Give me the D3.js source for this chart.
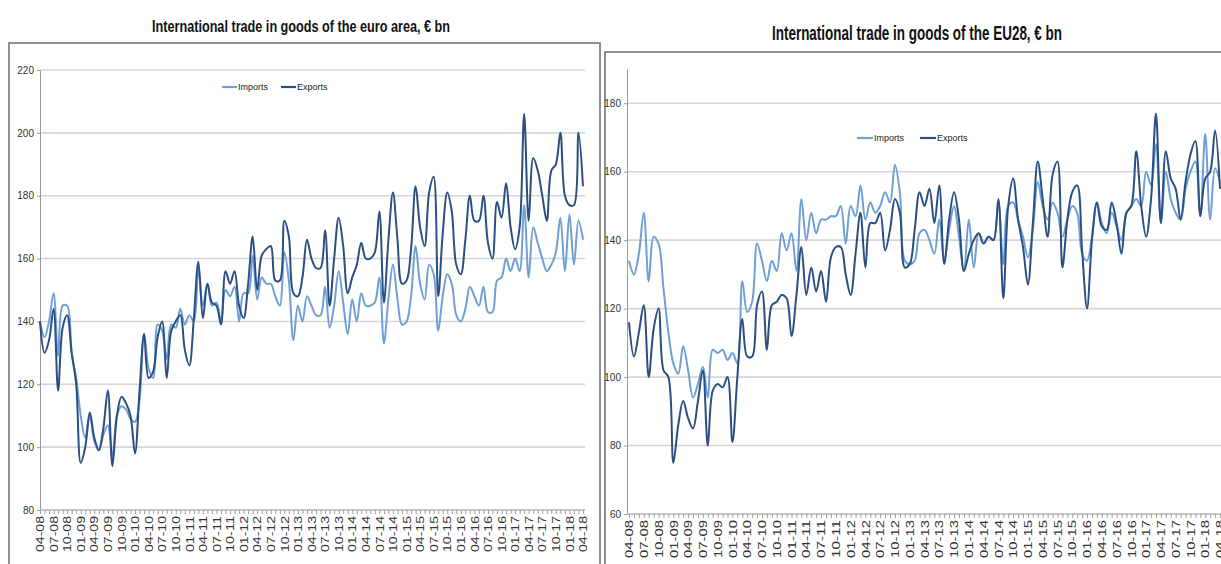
<!DOCTYPE html>
<html>
<head>
<meta charset="utf-8">
<script src="https://cdn.jsdelivr.net/npm/d3@7"></script>
<style>
  body { margin: 0; background: #fff; }
  svg { display: block; font-family: "Liberation Sans Narrow", "Liberation Sans", Arial, sans-serif; }
</style>
</head>
<body>
<svg id="chart" width="1221" height="564"></svg>
<script>
// months Apr 2008 .. Apr 2018
const months = d3.timeMonth.range(new Date(2008, 3, 1), new Date(2018, 4, 1)).map(d3.timeFormat('%m-%y'));

const tickLabels = ['04-08','07-08','10-08','01-09','04-09','07-09','10-09','01-10','04-10','07-10','10-10',
  '01-11','04-11','07-11','10-11','01-12','04-12','07-12','10-12','01-13','04-13','07-13','10-13',
  '01-14','04-14','07-14','10-14','01-15','04-15','07-15','10-15','01-16','04-16','07-16','10-16',
  '01-17','04-17','07-17','10-17','01-18','04-18'];

// euro area, € bn
const eaImports = [
  140,135,140,149,129,145,145,130,122,
  110,103,110,102,99,104,107,97,110,113,112,109,
  108,115,136,125,122,139,137,128,139,138,144,139,
  142,140,157,145,152,145,146,140,150,148,151,140,
  149,149,161,147,154,152,152,148,145,162,153,134,
  145,140,148,145,142,142,151,138,145,156,146,136,
  147,140,149,145,145,146,154,133,147,158,147,139,
  140,148,164,152,147,158,155,137,148,155,152,142,
  140,144,151,148,145,151,143,143,153,154,160,156,
  160,156,177,154,170,165,160,156,158,162,173,156,
  174,158,172,166];
const eaExports = [
  140,130,134,144,118,138,142,130,120,
  95,100,111,103,99,106,118,94,110,116,114,110,
  98,118,136,122,124,135,140,122,137,140,142,131,
  126,141,159,141,152,146,145,139,156,152,156,145,
  141,152,167,150,161,163,164,153,153,172,167,149,
  148,154,166,160,157,157,169,145,160,173,164,149,
  154,158,165,160,160,162,175,146,166,181,166,152,
  153,163,183,170,164,181,186,148,168,181,175,158,
  155,166,180,172,172,180,165,160,178,173,184,170,
  163,170,206,172,192,188,180,172,188,190,200,180,
  177,177,200,183];

// EU28, € bn
const euImports = [
  134,130,136,148,128,141,139,126,113,
  104,101,109,102,94,98,103,94,108,107,108,105,
  107,104,128,119,122,139,134,128,134,131,142,137,
  142,131,152,140,148,142,146,146,147,147,150,139,
  150,147,156,146,151,148,150,154,151,162,154,134,
  133,134,142,143,140,136,146,134,143,150,141,131,
  146,132,142,139,141,140,151,133,150,151,146,141,
  135,143,157,150,146,151,148,141,146,150,148,136,
  134,141,151,145,142,148,144,140,148,150,152,150,
  160,156,168,145,160,152,148,146,155,160,163,147,
  171,146,161,157];
const euExports = [
  116,106,113,121,100,114,120,102,100,
  75,86,93,88,85,93,102,80,96,98,97,100,
  81,100,117,106,106,121,125,108,121,122,124,123,
  112,124,138,124,132,125,131,122,135,138,138,130,
  124,136,148,132,145,145,148,137,143,152,148,132,
  133,143,154,150,155,145,156,133,146,154,146,131,
  136,140,142,139,141,140,152,123,150,158,146,138,
  127,145,163,152,141,159,163,132,146,154,156,137,
  120,140,151,144,143,151,145,136,148,150,166,150,
  141,152,177,145,166,158,155,146,157,165,169,147,
  158,160,172,155];

const seriesNames = ['Imports', 'Exports'];
const colors = {Imports: '#6f9fd6', Exports: '#2a4f82'};

const svg = d3.select('#chart');

function drawPanel(cfg) {
  const g = svg.append('g');

  // frame
  g.append('path')
    .attr('d', cfg.frame)
    .attr('fill', 'none')
    .attr('stroke', '#6b6b6b')
    .attr('stroke-width', 1.5);

  g.append('text')
    .attr('x', cfg.titleX).attr('y', cfg.titleY)
    .attr('text-anchor', 'middle')
    .attr('font-weight', 'bold')
    .attr('font-size', cfg.titleSize)
    .attr('textLength', cfg.titleLen)
    .attr('lengthAdjust', 'spacingAndGlyphs')
    .attr('fill', '#111')
    .text(cfg.title);

  const x = d3.scalePoint().domain(months).range(cfg.xRange);
  const y = d3.scaleLinear().domain(cfg.yDomain).range(cfg.yRange);

  // grid
  g.append('g').selectAll('line')
    .data(cfg.yTicks.slice(1))
    .join('line')
    .attr('x1', cfg.gridX[0]).attr('x2', cfg.gridX[1])
    .attr('y1', d => y(d)).attr('y2', d => y(d))
    .attr('stroke', '#d6d6d6')
    .attr('stroke-width', 1.6);

  // y axis
  const ya = g.append('g')
    .attr('transform', `translate(${cfg.axisX},0)`)
    .call(d3.axisLeft(y).tickValues(cfg.yTicks).tickSize(3).tickSizeOuter(0).tickPadding(3));
  ya.select('.domain').attr('stroke', '#9a9a9a');
  ya.selectAll('.tick line').attr('stroke', '#9a9a9a');
  ya.selectAll('text').attr('font-size', 10).attr('fill', '#333').attr('font-family', null);

  // x axis
  const xa = g.append('g')
    .attr('transform', `translate(0,${y(cfg.yDomain[0])})`)
    .call(d3.axisBottom(x).tickValues(months).tickSize(4).tickSizeOuter(0)
      .tickFormat(d => tickLabels.includes(d) ? d : ''));
  xa.select('.domain')
    .attr('d', `M${cfg.gridX[0]},0H${cfg.gridX[1]}`)
    .attr('stroke', '#b5b5b5').attr('stroke-width', 1.6);
  xa.selectAll('.tick line').attr('stroke', '#a0a0a0');
  xa.selectAll('text')
    .filter(d => tickLabels.includes(d))
    .attr('font-size', 10.5)
    .attr('fill', '#333')
    .attr('font-family', null)
    .attr('text-anchor', 'end')
    .attr('dy', '0.35em')
    .attr('textLength', cfg.labelLen)
    .attr('lengthAdjust', 'spacingAndGlyphs')
    .attr('transform', 'translate(0,6) rotate(-90)')
    .attr('x', 0).attr('y', 0);

  const line = d3.line()
    .x((d, i) => x(months[i]))
    .y(d => y(d))
    .curve(d3.curveCatmullRom.alpha(0.5));

  seriesNames.forEach(name => {
    g.append('path')
      .datum(cfg.data[name])
      .attr('fill', 'none')
      .attr('stroke', colors[name])
      .attr('stroke-width', 2)
      .attr('d', line);
  });

  // legend
  const lg = g.append('g');
  seriesNames.forEach((name, k) => {
    const lx = cfg.legendX[k];
    lg.append('line')
      .attr('x1', lx).attr('x2', lx + cfg.legendLine)
      .attr('y1', cfg.legendY).attr('y2', cfg.legendY)
      .attr('stroke', colors[name]).attr('stroke-width', 2.2);
    lg.append('text')
      .attr('x', lx + cfg.legendLine + 1).attr('y', cfg.legendY)
      .attr('dy', '0.35em')
      .attr('font-size', 9)
      .attr('fill', '#222')
      .text(name);
  });
}

drawPanel({
  title: 'International trade in goods of the euro area, € bn',
  titleX: 301, titleY: 32, titleSize: 16, titleLen: 298,
  frame: 'M9,566V43H600V566',
  xRange: [40, 583], gridX: [40, 585], axisX: 40,
  yDomain: [80, 220], yRange: [510, 70],
  yTicks: [80, 100, 120, 140, 160, 180, 200, 220],
  labelLen: 36,
  data: {Imports: eaImports, Exports: eaExports},
  legendX: [222, 281], legendY: 87, legendLine: 15
});

drawPanel({
  title: 'International trade in goods of the EU28, € bn',
  titleX: 917, titleY: 40, titleSize: 20, titleLen: 290,
  frame: 'M605,566V52H1225',
  xRange: [629, 1220], gridX: [627, 1221], axisX: 627,
  yDomain: [60, 190], yRange: [514, 69],
  yTicks: [60, 80, 100, 120, 140, 160, 180],
  labelLen: 38,
  data: {Imports: euImports, Exports: euExports},
  legendX: [857, 920], legendY: 138, legendLine: 16
});
</script>
</body>
</html>
